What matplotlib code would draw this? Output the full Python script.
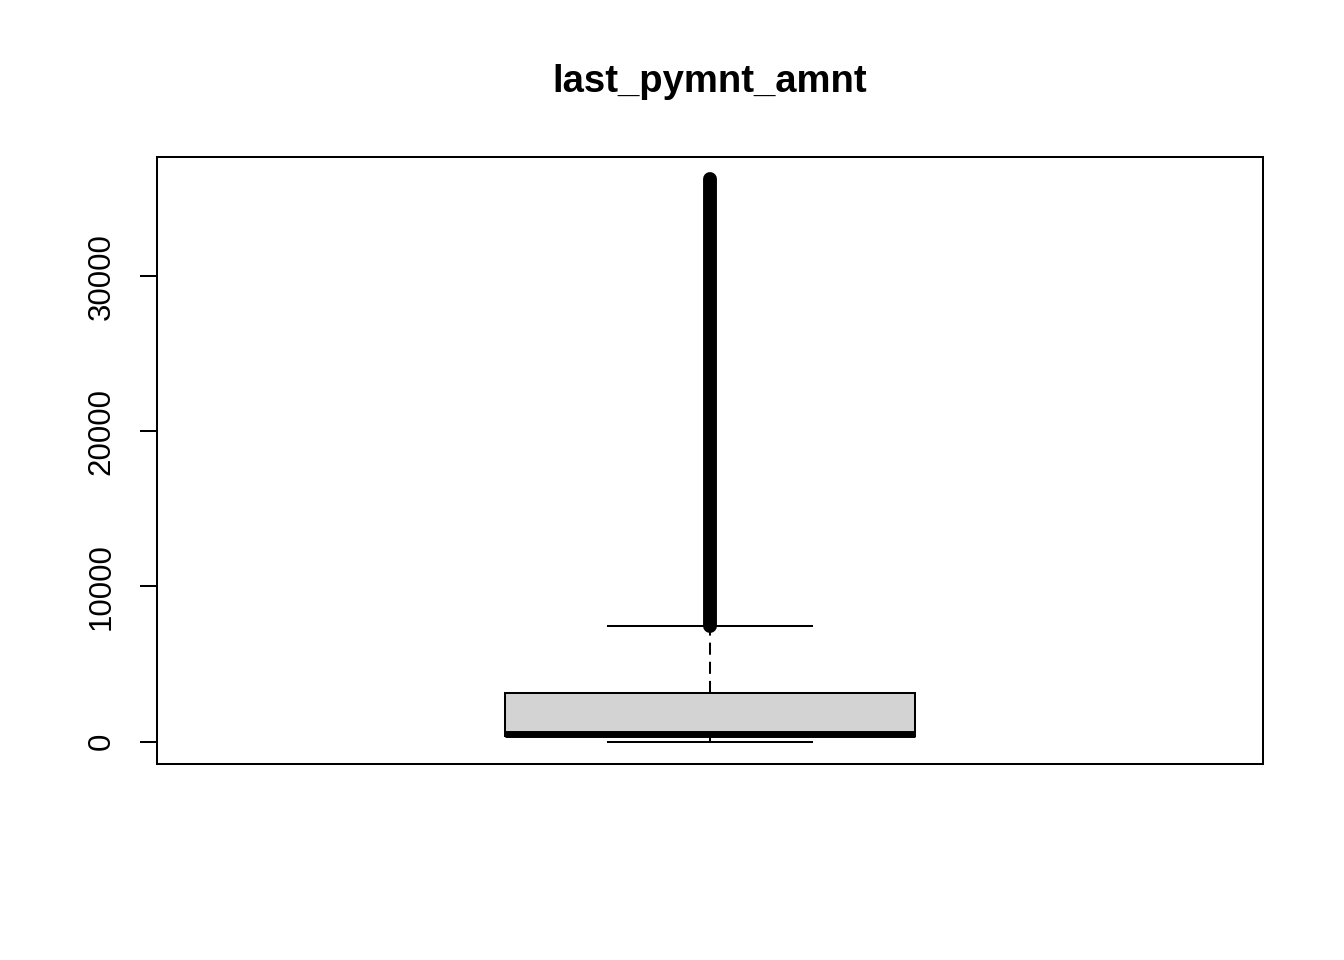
import matplotlib.pyplot as plt

plt.rcParams["font.family"] = ["Liberation Sans", "DejaVu Sans"]

# boxplot statistics for last_pymnt_amnt
label = "last_pymnt_amnt"
q1 = 350
median = 500
q3 = 3160
whisker_low = 0
whisker_high = 7480
# outliers form a continuous band from the whisker up to the max value
outlier_low = 7480
outlier_high = 36250

fig = plt.figure(figsize=(13.44, 9.6), dpi=100)
ax = fig.add_axes([157 / 1344, 1 - 764 / 960, 1106 / 1344, 607 / 960])

stats = [dict(med=median, q1=q1, q3=q3, whislo=whisker_low, whishi=whisker_high,
              fliers=[], label="")]
ax.bxp(stats, positions=[1], widths=0.37, patch_artist=True, showfliers=False,
       boxprops=dict(facecolor="#d3d3d3", edgecolor="black", linewidth=1.45),
       medianprops=dict(color="black", linewidth=5, solid_capstyle="butt"),
       whiskerprops=dict(color="black", linewidth=1.45, linestyle=(0, (6, 3.5))),
       capprops=dict(color="black", linewidth=1.45),
       capwidths=0.185)

# outlier band (overlapping open circles in the original)
ax.plot([1, 1], [outlier_low, outlier_high], color="black", linewidth=10,
        solid_capstyle="round")

lo, hi = whisker_low, outlier_high
pad = 0.04 * (hi - lo)
ax.set_ylim(lo - pad, hi + pad)
ax.set_xlim(0.5, 1.5)
ax.set_xticks([])
ax.set_yticks([0, 10000, 20000, 30000])
ax.set_yticklabels(["0", "10000", "20000", "30000"], rotation=90, va="center")
ax.tick_params(axis="y", length=12, width=1.45, pad=17, labelsize=22.5)
for s in ax.spines.values():
    s.set_linewidth(1.45)

fig.text(710 / 1344, 1 - 82 / 960, label, ha="center", va="center",
         fontsize=27.5, fontweight="bold")

fig.savefig("out.png", dpi=100)
